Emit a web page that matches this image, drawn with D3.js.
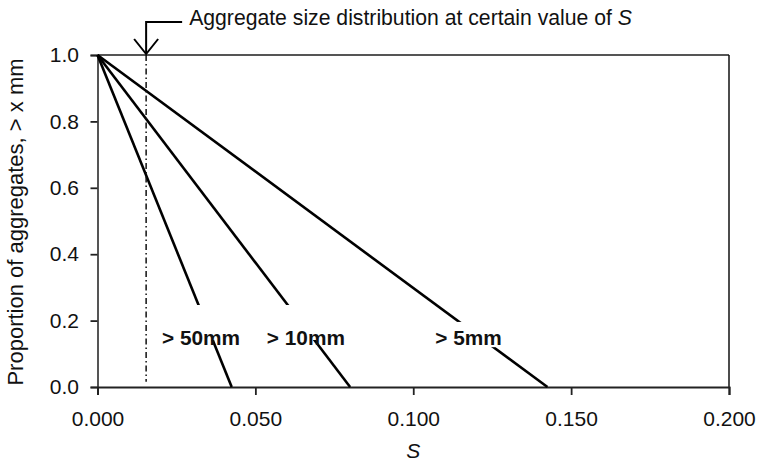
<!DOCTYPE html>
<html><head><meta charset="utf-8">
<script src="https://cdn.jsdelivr.net/npm/d3@7"></script>
<style>
body{margin:0;background:#fff;}
text{font-family:"Liberation Sans",Arial,sans-serif;}
</style></head>
<body><svg id="c" width="757" height="463"></svg>
<script>
// Data
const seriesNames = ["> 50mm", "> 10mm", "> 5mm"];
const seriesStartS = [0, 0, 0];
const seriesStartP = [1.0, 1.0, 1.0];
const seriesEndS = [0.0425, 0.080, 0.1425];
const seriesEndP = [0.0, 0.0, 0.0];
// label anchor (S, proportion) and white box extents in proportion units
const labelS = [0.0328, 0.0660, 0.1175];
const labelP = [0.1265, 0.1265, 0.1265];
const boxTopP = [0.247, 0.247, 0.196];
const boxBotP = [0.1416, 0.1416, 0.120];
const markerS = 0.0154;
const xTicks = [0, 0.05, 0.10, 0.15, 0.20];
const yTicks = [0, 0.2, 0.4, 0.6, 0.8, 1.0];
const annotation = "Aggregate size distribution at certain value of ";

const svg = d3.select("#c");
const m = {l:97.5, r:729, t:55, b:387};
const x = d3.scaleLinear().domain([0,0.2]).range([m.l,m.r]);
const y = d3.scaleLinear().domain([0,1]).range([m.b,m.t]);
const fs = 21;

// frame top/right
svg.append("line").attr("x1",m.l).attr("x2",m.r).attr("y1",m.t).attr("y2",m.t).attr("stroke","#555").attr("stroke-width",1.8);
svg.append("line").attr("x1",m.r).attr("x2",m.r).attr("y1",m.t).attr("y2",m.b).attr("stroke","#111").attr("stroke-width",1.5);

// axes
const yAx = svg.append("g").attr("transform",`translate(${m.l},0)`)
  .call(d3.axisLeft(y).tickValues(yTicks).tickFormat(d3.format(".1f")).tickSize(7).tickPadding(11.5));
const xAx = svg.append("g").attr("transform",`translate(0,${m.b})`)
  .call(d3.axisBottom(x).tickValues(xTicks).tickFormat(d3.format(".3f")).tickSize(8).tickPadding(16));
[yAx,xAx].forEach(g=>{
  g.attr("font-size",fs).attr("font-family","Liberation Sans, Arial, sans-serif");
  g.select(".domain").attr("stroke","#222").attr("stroke-width",2);
  g.selectAll(".tick line").attr("stroke","#222").attr("stroke-width",1.8);
  g.selectAll(".tick text").attr("fill","#111");
});
yAx.select(".domain").attr("stroke","#555");

// series lines
seriesNames.forEach((n,i)=>{
  svg.append("line")
    .attr("x1",x(seriesStartS[i])).attr("y1",y(seriesStartP[i]))
    .attr("x2",x(seriesEndS[i])).attr("y2",y(seriesEndP[i]))
    .attr("stroke","#000").attr("stroke-width",2.6);
});

// labels with white boxes
seriesNames.forEach((n,i)=>{
  const g = svg.append("g");
  const r = g.append("rect").attr("fill","#fff");
  const t = g.append("text").attr("x",x(labelS[i])).attr("y",y(labelP[i]))
    .attr("text-anchor","middle").attr("font-size",20.8).attr("font-weight","bold").attr("fill","#111").text(n);
  const bb = t.node().getBBox();
  r.attr("x",bb.x-3).attr("width",bb.width+6)
    .attr("y",y(boxTopP[i])).attr("height",y(boxBotP[i])-y(boxTopP[i]));
});

// dash-dot marker line
svg.append("line").attr("x1",x(markerS)).attr("x2",x(markerS))
  .attr("y1",y(1)).attr("y2",y(0.016))
  .attr("stroke","#111").attr("stroke-width",1.5).attr("stroke-dasharray","6,3,1.5,3");

// arrow annotation
const ax = x(markerS);
svg.append("path").attr("d",`M${ax+36},22 H${ax} V${y(1)-1}`).attr("fill","none").attr("stroke","#000").attr("stroke-width",2);
svg.append("path").attr("d",`M${ax-12},39 L${ax},${y(1)-1} L${ax+12},39`).attr("fill","none").attr("stroke","#000").attr("stroke-width",2);
const tt = svg.append("text").attr("x",ax+43).attr("y",25).attr("font-size",21.2).attr("fill","#111");
tt.append("tspan").text(annotation);
tt.append("tspan").attr("font-style","italic").text("S");

// axis titles
svg.append("text").attr("x",x(0.1)).attr("y",458).attr("text-anchor","middle")
  .attr("font-size",fs).attr("font-style","italic").attr("fill","#111").text("S");
svg.append("text").attr("transform",`translate(23,222) rotate(-90)`).attr("text-anchor","middle")
  .attr("font-size",22).attr("fill","#111").text("Proportion of aggregates, > x mm");
</script></body></html>
